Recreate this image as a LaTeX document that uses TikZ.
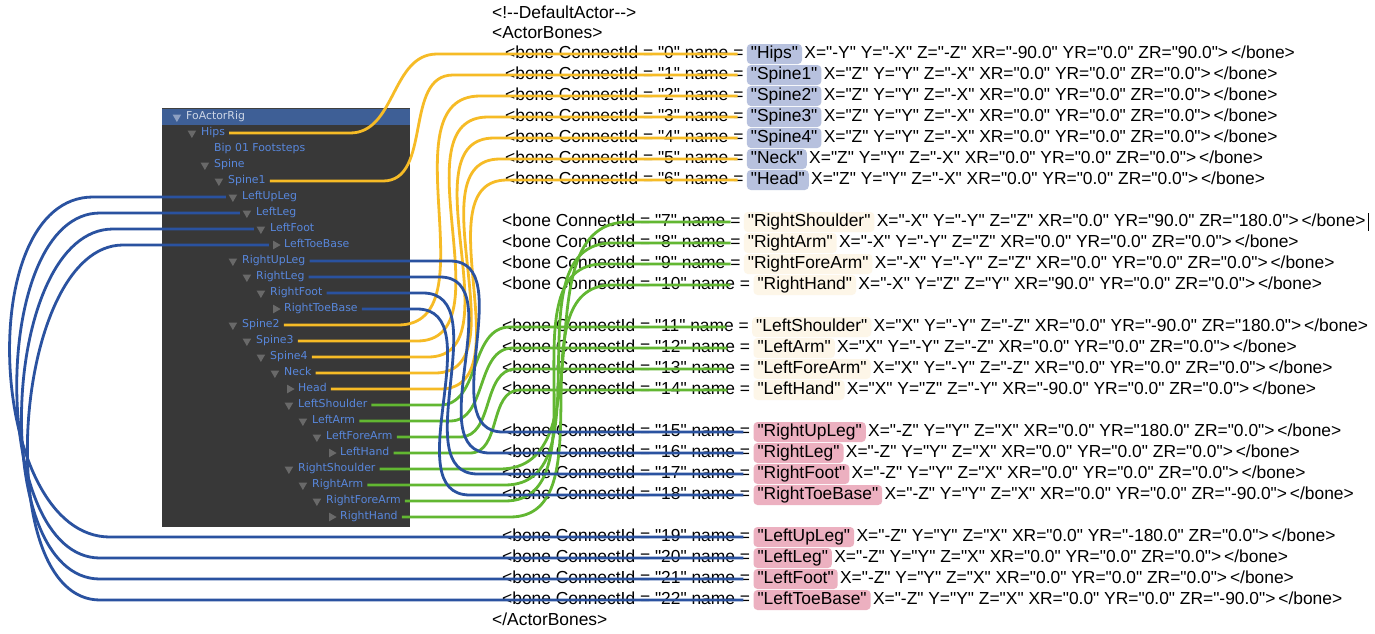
\documentclass[tikz,border=0pt]{standalone}
\usepackage{fontspec}
\setmainfont{Liberation Sans}[Ligatures=TeXOff]
\newfontfamily\treefont{DejaVu Sans}
\usepackage{tikz}
\usetikzlibrary{shapes.geometric}
\usetikzlibrary{positioning}

\definecolor{panelgray}{RGB}{56,56,56}
\definecolor{headbar}{RGB}{62,95,150}
\definecolor{headtext}{RGB}{205,214,230}
\definecolor{treeblue}{RGB}{88,135,220}
\definecolor{foldgray}{RGB}{105,105,105}
\definecolor{spinecol}{RGB}{246,187,38}
\definecolor{armcol}{RGB}{98,183,50}
\definecolor{legcol}{RGB}{42,82,160}
\definecolor{pillspine}{RGB}{183,193,222}
\definecolor{pillarm}{RGB}{253,246,232}
\definecolor{pillleg}{RGB}{236,176,192}

\tikzset{
  item/.style={anchor=west, inner sep=0pt, text=treeblue, font=\treefont\fontsize{10.9}{12}\selectfont, text height=8pt, text depth=2.5pt},
  shut/.style={regular polygon, regular polygon sides=3, shape border rotate=180, minimum size=10pt, inner sep=0pt, fill=foldgray},
  leaf/.style={shut, shape border rotate=-90},
  xml/.style={anchor=west, inner sep=0pt, font=\fontsize{17.4}{21}\selectfont, text height=13pt, text depth=4pt},
  pill/.style={xml, inner xsep=4pt, inner ysep=1.5pt, rounded corners=4pt},
  spinename/.style={pill, fill=pillspine},
  armname/.style={pill, fill=pillarm},
  legname/.style={pill, fill=pillleg},
  link/.style={line width=2.8pt, shorten <=4pt},
  spine/.style={link, draw=spinecol, shorten >=6pt},
  arm/.style={link, draw=armcol, shorten >=10pt},
  leg/.style={link, draw=legcol, shorten >=7pt}
}

\begin{document}
\begin{tikzpicture}[x=1pt,y=-1pt]
\useasboundingbox (0,0) rectangle (1375,633);
\fill[white] (0,0) rectangle (1375,633);

% hierarchy panel
\fill[panelgray] (162,108) rectangle (410,527);
\fill[headbar] (162,108) rectangle (410,125);
\draw[black!75,line width=1.5pt] (162,108.5) -- (410,108.5);
\node[item,text=headtext] (FoActorRig) at (186,117) {FoActorRig};
\node[shut,fill=headtext!55!headbar,left=6pt of FoActorRig] {};

\node[item] (Hips) at (201,133) {Hips};
\node[shut,left=6pt of Hips] {};
\node[item] (Bip) at (214,149) {Bip 01 Footsteps};
\node[item] (Spine) at (214,165) {Spine};
\node[shut,left=6pt of Spine] {};
\node[item] (Spine1) at (228,181) {Spine1};
\node[shut,left=6pt of Spine1] {};
\node[item] (LeftUpLeg) at (242,197) {LeftUpLeg};
\node[shut,left=6pt of LeftUpLeg] (LeftUpLegFold) {};
\node[item] (LeftLeg) at (256,213) {LeftLeg};
\node[shut,left=6pt of LeftLeg] (LeftLegFold) {};
\node[item] (LeftFoot) at (270,229) {LeftFoot};
\node[shut,left=6pt of LeftFoot] (LeftFootFold) {};
\node[item] (LeftToeBase) at (284,245) {LeftToeBase};
\node[leaf,left=3pt of LeftToeBase] (LeftToeBaseFold) {};
\node[item] (RightUpLeg) at (242,261) {RightUpLeg};
\node[shut,left=6pt of RightUpLeg] {};
\node[item] (RightLeg) at (256,277) {RightLeg};
\node[shut,left=6pt of RightLeg] {};
\node[item] (RightFoot) at (270,293) {RightFoot};
\node[shut,left=6pt of RightFoot] {};
\node[item] (RightToeBase) at (284,309) {RightToeBase};
\node[leaf,left=3pt of RightToeBase] {};
\node[item] (Spine2) at (242,325) {Spine2};
\node[shut,left=6pt of Spine2] {};
\node[item] (Spine3) at (256,341) {Spine3};
\node[shut,left=6pt of Spine3] {};
\node[item] (Spine4) at (270,357) {Spine4};
\node[shut,left=6pt of Spine4] {};
\node[item] (Neck) at (284,373) {Neck};
\node[shut,left=6pt of Neck] {};
\node[item] (Head) at (298,389) {Head};
\node[leaf,left=3pt of Head] {};
\node[item] (LeftShoulder) at (298,405) {LeftShoulder};
\node[shut,left=6pt of LeftShoulder] {};
\node[item] (LeftArm) at (312,421) {LeftArm};
\node[shut,left=6pt of LeftArm] {};
\node[item] (LeftForeArm) at (326,437) {LeftForeArm};
\node[shut,left=6pt of LeftForeArm] {};
\node[item] (LeftHand) at (340,453) {LeftHand};
\node[leaf,left=3pt of LeftHand] {};
\node[item] (RightShoulder) at (298,469) {RightShoulder};
\node[shut,left=6pt of RightShoulder] {};
\node[item] (RightArm) at (312,485) {RightArm};
\node[shut,left=6pt of RightArm] {};
\node[item] (RightForeArm) at (326,501) {RightForeArm};
\node[shut,left=6pt of RightForeArm] {};
\node[item] (RightHand) at (340,517) {RightHand};
\node[leaf,left=3pt of RightHand] {};

% xml listing
\node[xml] (head) at (492,14) {<!-{}-DefaultActor-{}->};
\node[xml] (open) at (492,34) {<ActorBones>};

\node[xml] (p0) at (505,54) {<bone ConnectId = "0" name =};
\node[spinename,right=3pt of p0] (n0) {"Hips"};
\node[xml,right=2pt of n0] (r0) {X="-Y" Y="-X" Z="-Z" XR="-90.0" YR="0.0" ZR="90.0">\,</bone>};
\node[xml] (p1) at (505,75) {<bone ConnectId = "1" name =};
\node[spinename,right=3pt of p1] (n1) {"Spine1"};
\node[xml,right=2pt of n1] (r1) {X="Z" Y="Y" Z="-X" XR="0.0" YR="0.0" ZR="0.0">\,</bone>};
\node[xml] (p2) at (505,96) {<bone ConnectId = "2" name =};
\node[spinename,right=3pt of p2] (n2) {"Spine2"};
\node[xml,right=2pt of n2] (r2) {X="Z" Y="Y" Z="-X" XR="0.0" YR="0.0" ZR="0.0">\,</bone>};
\node[xml] (p3) at (505,117) {<bone ConnectId = "3" name =};
\node[spinename,right=3pt of p3] (n3) {"Spine3"};
\node[xml,right=2pt of n3] (r3) {X="Z" Y="Y" Z="-X" XR="0.0" YR="0.0" ZR="0.0">\,</bone>};
\node[xml] (p4) at (505,138) {<bone ConnectId = "4" name =};
\node[spinename,right=3pt of p4] (n4) {"Spine4"};
\node[xml,right=2pt of n4] (r4) {X="Z" Y="Y" Z="-X" XR="0.0" YR="0.0" ZR="0.0">\,</bone>};
\node[xml] (p5) at (505,159) {<bone ConnectId = "5" name =};
\node[spinename,right=3pt of p5] (n5) {"Neck"};
\node[xml,right=2pt of n5] (r5) {X="Z" Y="Y" Z="-X" XR="0.0" YR="0.0" ZR="0.0">\,</bone>};
\node[xml] (p6) at (505,180) {<bone ConnectId = "6" name =};
\node[spinename,right=3pt of p6] (n6) {"Head"};
\node[xml,right=2pt of n6] (r6) {X="Z" Y="Y" Z="-X" XR="0.0" YR="0.0" ZR="0.0">\,</bone>};

\node[xml] (p7) at (502,222) {<bone ConnectId = "7" name =};
\node[armname,right=3pt of p7] (n7) {"RightShoulder"};
\node[xml,right=2pt of n7] (r7) {X="-X" Y="-Y" Z="Z" XR="0.0" YR="90.0" ZR="180.0">\,</bone>};
\node[xml] (p8) at (502,243) {<bone ConnectId = "8" name =};
\node[armname,right=3pt of p8] (n8) {"RightArm"};
\node[xml,right=2pt of n8] (r8) {X="-X" Y="-Y" Z="Z" XR="0.0" YR="0.0" ZR="0.0">\,</bone>};
\node[xml] (p9) at (502,264) {<bone ConnectId = "9" name =};
\node[armname,right=3pt of p9] (n9) {"RightForeArm"};
\node[xml,right=2pt of n9] (r9) {X="-X" Y="-Y" Z="Z" XR="0.0" YR="0.0" ZR="0.0">\,</bone>};
\node[xml] (p10) at (502,285) {<bone ConnectId = "10" name =};
\node[armname,right=3pt of p10] (n10) {"RightHand"};
\node[xml,right=2pt of n10] (r10) {X="-X" Y="Z" Z="Y" XR="90.0" YR="0.0" ZR="0.0">\,</bone>};

\node[xml] (p11) at (502,327) {<bone ConnectId = "11" name =};
\node[armname,right=3pt of p11] (n11) {"LeftShoulder"};
\node[xml,right=2pt of n11] (r11) {X="X" Y="-Y" Z="-Z" XR="0.0" YR="-90.0" ZR="180.0">\,</bone>};
\node[xml] (p12) at (502,348) {<bone ConnectId = "12" name =};
\node[armname,right=3pt of p12] (n12) {"LeftArm"};
\node[xml,right=2pt of n12] (r12) {X="X" Y="-Y" Z="-Z" XR="0.0" YR="0.0" ZR="0.0">\,</bone>};
\node[xml] (p13) at (502,369) {<bone ConnectId = "13" name =};
\node[armname,right=3pt of p13] (n13) {"LeftForeArm"};
\node[xml,right=2pt of n13] (r13) {X="X" Y="-Y" Z="-Z" XR="0.0" YR="0.0" ZR="0.0">\,</bone>};
\node[xml] (p14) at (502,390) {<bone ConnectId = "14" name =};
\node[armname,right=3pt of p14] (n14) {"LeftHand"};
\node[xml,right=2pt of n14] (r14) {X="X" Y="Z" Z="-Y" XR="-90.0" YR="0.0" ZR="0.0">\,</bone>};

\node[xml] (p15) at (502,432) {<bone ConnectId = "15" name =};
\node[legname,right=3pt of p15] (n15) {"RightUpLeg"};
\node[xml,right=2pt of n15] (r15) {X="-Z" Y="Y" Z="X" XR="0.0" YR="180.0" ZR="0.0">\,</bone>};
\node[xml] (p16) at (502,453) {<bone ConnectId = "16" name =};
\node[legname,right=3pt of p16] (n16) {"RightLeg"};
\node[xml,right=2pt of n16] (r16) {X="-Z" Y="Y" Z="X" XR="0.0" YR="0.0" ZR="0.0">\,</bone>};
\node[xml] (p17) at (502,474) {<bone ConnectId = "17" name =};
\node[legname,right=3pt of p17] (n17) {"RightFoot"};
\node[xml,right=2pt of n17] (r17) {X="-Z" Y="Y" Z="X" XR="0.0" YR="0.0" ZR="0.0">\,</bone>};
\node[xml] (p18) at (502,495) {<bone ConnectId = "18" name =};
\node[legname,right=3pt of p18] (n18) {"RightToeBase"};
\node[xml,right=2pt of n18] (r18) {X="-Z" Y="Y" Z="X" XR="0.0" YR="0.0" ZR="-90.0">\,</bone>};

\node[xml] (p19) at (502,537) {<bone ConnectId = "19" name =};
\node[legname,right=3pt of p19] (n19) {"LeftUpLeg"};
\node[xml,right=2pt of n19] (r19) {X="-Z" Y="Y" Z="X" XR="0.0" YR="-180.0" ZR="0.0">\,</bone>};
\node[xml] (p20) at (502,558) {<bone ConnectId = "20" name =};
\node[legname,right=3pt of p20] (n20) {"LeftLeg"};
\node[xml,right=2pt of n20] (r20) {X="-Z" Y="Y" Z="X" XR="0.0" YR="0.0" ZR="0.0">\,</bone>};
\node[xml] (p21) at (502,579) {<bone ConnectId = "21" name =};
\node[legname,right=3pt of p21] (n21) {"LeftFoot"};
\node[xml,right=2pt of n21] (r21) {X="-Z" Y="Y" Z="X" XR="0.0" YR="0.0" ZR="0.0">\,</bone>};
\node[xml] (p22) at (502,600) {<bone ConnectId = "22" name =};
\node[legname,right=3pt of p22] (n22) {"LeftToeBase"};
\node[xml,right=2pt of n22] (r22) {X="-Z" Y="Y" Z="X" XR="0.0" YR="0.0" ZR="-90.0">\,</bone>};
\node[xml] (close) at (492,621) {</ActorBones>};

% text cursor
\draw[line width=1pt] ([xshift=3pt]r7.north east) -- ([xshift=3pt]r7.south east);

% spine links
\draw[spine] (Hips.east) -- (350,0 |- Hips.east) to[out=0,in=180] (437,0 |- p0.east) -- (p0.east);
\draw[spine] (Spine1.east) -- (383,0 |- Spine1.east) to[out=0,in=180] (453,0 |- p1.east) -- (p1.east);
\draw[spine] (Spine2.east) -- (398,0 |- Spine2.east) to[out=0,in=180] (480,0 |- p2.east) -- (p2.east);
\draw[spine] (Spine3.east) -- (417,0 |- Spine3.east) to[out=0,in=180] (488,0 |- p3.east) -- (p3.east);
\draw[spine] (Spine4.east) -- (428,0 |- Spine4.east) to[out=0,in=180] (494,0 |- p4.east) -- (p4.east);
\draw[spine] (Neck.east) -- (435,0 |- Neck.east) to[out=0,in=180] (500,0 |- p5.east) -- (p5.east);
\draw[spine] (Head.east) -- (440,0 |- Head.east) to[out=0,in=180] (507,0 |- p6.east) -- (p6.east);

% arm links
\draw[arm,shorten >=23pt] (LeftShoulder.east) -- (440,0 |- LeftShoulder.east) to[out=0,in=180] (510,0 |- p11.east) -- (p11.east);
\draw[arm,shorten >=23pt] (LeftArm.east) -- (450,0 |- LeftArm.east) to[out=0,in=180] (513,0 |- p12.east) -- (p12.east);
\draw[arm,shorten >=23pt] (LeftForeArm.east) -- (460,0 |- LeftForeArm.east) to[out=0,in=180] (516,0 |- p13.east) -- (p13.east);
\draw[arm,shorten >=23pt] (LeftHand.east) -- (470,0 |- LeftHand.east) to[out=0,in=180] (520,0 |- p14.east) -- (p14.east);
\draw[arm] (RightShoulder.east) -- (500,0 |- RightShoulder.east) to[out=0,in=180] (628,0 |- p7.east) -- (p7.east);
\draw[arm] (RightArm.east) -- (505,0 |- RightArm.east) to[out=0,in=180] (612,0 |- p8.east) -- (p8.east);
\draw[arm] (RightForeArm.east) -- (505,0 |- RightForeArm.east) to[out=0,in=180] (603,0 |- p9.east) -- (p9.east);
\draw[arm,shorten >=20pt] (RightHand.east) -- (510,0 |- RightHand.east) to[out=0,in=180] (612,0 |- p10.east) -- (p10.east);

% leg links
\draw[leg] (RightUpLeg.east) -- (450,0 |- RightUpLeg.east) to[out=0,in=180] (503,0 |- p15.east) -- (p15.east);
\draw[leg] (RightLeg.east) -- (440,0 |- RightLeg.east) to[out=0,in=180] (490,0 |- p16.east) -- (p16.east);
\draw[leg] (RightFoot.east) -- (423,0 |- RightFoot.east) to[out=0,in=180] (478,0 |- p17.east) -- (p17.east);
\draw[leg] (RightToeBase.east) -- (417,0 |- RightToeBase.east) to[out=0,in=180] (470,0 |- p18.east) -- (p18.east);
\draw[leg] (LeftUpLegFold.west) -- (93,0 |- LeftUpLegFold.west) to[out=180,in=180,distance=122pt] (110,0 |- p19.east) -- (p19.east);
\draw[leg] (LeftLegFold.west) -- (100,0 |- LeftLegFold.west) to[out=180,in=180,distance=111pt] (100,0 |- p20.east) -- (p20.east);
\draw[leg] (LeftFootFold.west) -- (113,0 |- LeftFootFold.west) to[out=180,in=180,distance=113pt] (100,0 |- p21.east) -- (p21.east);
\draw[leg] (LeftToeBaseFold.west) -- (123,0 |- LeftToeBaseFold.west) to[out=180,in=180,distance=111pt] (100,0 |- p22.east) -- (p22.east);
\end{tikzpicture}
\end{document}
